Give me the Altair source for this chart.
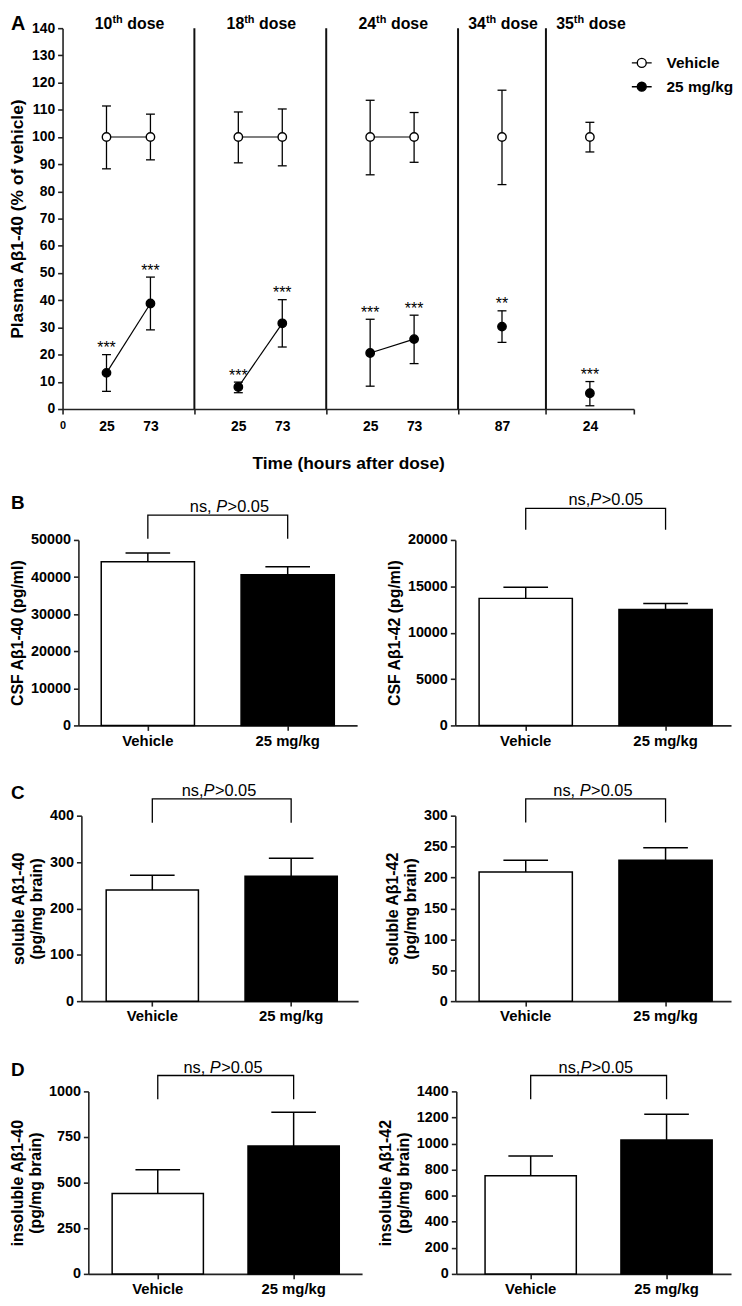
import altair as alt
import pandas as pd

FONT = 'Liberation Sans'

# ------------------------------ Panel A data ------------------------------
a_dose    = ['10th', '10th', '18th', '18th', '24th', '24th', '34th', '35th']
a_slot    = [1, 2, 4, 5, 7, 8, 10, 12]          # position on the segmented time axis
a_hours   = ['25', '73', '25', '73', '25', '73', '87', '24']
veh_mean  = [100, 100, 100, 100, 100, 100, 100, 100]
veh_lo    = [88.3, 91.6, 90.5, 89.4, 86.1, 90.7, 82.5, 94.5]
veh_hi    = [111.4, 108.4, 109.2, 110.3, 113.5, 109.0, 117.2, 105.4]
drug_mean = [13.3, 38.8, 8.1, 31.5, 20.6, 25.7, 30.3, 5.8]
drug_lo   = [6.5, 29.1, 6.0, 22.8, 8.4, 16.7, 24.5, 1.2]
drug_hi   = [20.0, 48.5, 9.9, 40.2, 33.0, 34.5, 36.1, 10.1]
drug_sig  = ['***', '***', '***', '***', '***', '***', '**', '***']
sep_slots = [3, 6, 9, 11]
end_slot  = 13
dose_names = ['10th', '18th', '24th', '34th', '35th']
dose_nums  = ['10', '18', '24', '34', '35']
a_yticks  = [0, 10, 20, 30, 40, 50, 60, 70, 80, 90, 100, 110, 120, 130, 140]

groups = ['Vehicle', '25 mg/kg']
group_fill = ['white', 'black']

# ------------------------------ Panels B-D data ------------------------------
csf40_mean = [44100, 40600]
csf40_top  = [46500, 42800]
csf40_ticks = [0, 10000, 20000, 30000, 40000, 50000]
csf40_bracket = [56700, 50300]

csf42_mean = [13700, 12500]
csf42_top  = [14900, 13150]
csf42_ticks = [0, 5000, 10000, 15000, 20000]
csf42_bracket = [23400, 21100]

sol40_mean = [239.6, 269.5]
sol40_top  = [271.6, 308]
sol40_ticks = [0, 100, 200, 300, 400]
sol40_bracket = [436, 385]

sol42_mean = [209, 228]
sol42_top  = [228, 248]
sol42_ticks = [0, 50, 100, 150, 200, 250, 300]
sol42_bracket = [327, 289]

insol40_mean = [440, 701]
insol40_top  = [570, 886]
insol40_ticks = [0, 250, 500, 750, 1000]
insol40_bracket = [1087, 957]

insol42_mean = [753, 1027]
insol42_top  = [905, 1225]
insol42_ticks = [0, 200, 400, 600, 800, 1000, 1200, 1400]
insol42_bracket = [1522, 1339]

# ------------------------------ Panel A ------------------------------
rows = []
for i in range(len(a_slot)):
    rows.append(dict(slot=a_slot[i], dose=a_dose[i], grp=groups[0], mean=veh_mean[i],
                     lo=veh_lo[i], hi=veh_hi[i], sig=''))
    rows.append(dict(slot=a_slot[i], dose=a_dose[i], grp=groups[1], mean=drug_mean[i],
                     lo=drug_lo[i], hi=drug_hi[i], sig=drug_sig[i]))
df_a = pd.DataFrame(rows)
df_a['key'] = df_a['grp'] + df_a['dose']

label_pairs = [(0, '0')] + list(zip(a_slot, a_hours))
label_expr = "''"
for s, h in reversed(label_pairs):
    label_expr = f"datum.value == {s} ? '{h}' : ({label_expr})"
tick_slots = [0] + sep_slots + [end_slot]
tick_test = "indexof([" + ",".join(str(s) for s in tick_slots) + "], datum.value) >= 0"

A_W = 576   # drawn width of panel A's plot
xs_a = alt.Scale(domain=[0, end_slot], nice=False, zero=False, range=[0, A_W])
ys_a = alt.Scale(domain=[0, 140], nice=False)
xaxis_a = alt.Axis(values=list(range(0, end_slot + 1)), labelExpr=label_expr,
                   title='Time (hours after dose)', titleFontSize=17.5, titlePadding=21,
                   labelFontSize={'condition': {'test': 'datum.value == 0', 'value': 11}, 'value': 14},
                   tickOpacity={'condition': {'test': tick_test, 'value': 1}, 'value': 0},
                   tickSize=5, labelPadding=6, labelFlush=False, labelOverlap=False, grid=False)
yaxis_a = alt.Axis(values=a_yticks, title='Plasma Aβ1-40 (% of vehicle)', titleFontSize=17.5,
                   labelFontSize=14, tickSize=5, labelPadding=3, titlePadding=5, grid=False)

XA = alt.X('slot:Q', scale=xs_a, axis=xaxis_a)


def YA(f):
    return alt.Y(f, type='quantitative', scale=ys_a, axis=yaxis_a)


base_a = alt.Chart(df_a)
seps = alt.Chart(pd.DataFrame({'slot': sep_slots})).mark_rule(color='#111', strokeWidth=2).encode(x=XA)
err_a = base_a.mark_rule(color='black', strokeWidth=1.3).encode(x=XA, y=YA('lo'), y2='hi:Q')
cap_hi = base_a.mark_rule(color='black', strokeWidth=1.3, xOffset=-4.5, x2Offset=4.5).encode(
    x=XA, x2='slot:Q', y=YA('hi'))
cap_lo = base_a.mark_rule(color='black', strokeWidth=1.3, xOffset=-4.5, x2Offset=4.5).encode(
    x=XA, x2='slot:Q', y=YA('lo'))
lines_a = base_a.mark_line(color='black', strokeWidth=1.2).encode(
    x=XA, y=YA('mean'), detail='key:N', order='slot:Q')

legend_path = ("M-1,0H-0.45M0.45,0H1M-0.45,0A0.45,0.45,0,1,1,0.45,0"
               "A0.45,0.45,0,1,1,-0.45,0Z")
legend_a = alt.Legend(title=None, orient='none', legendX=573, legendY=24, symbolType=legend_path,
                      symbolSize=400, symbolStrokeColor='black', symbolStrokeWidth=1.4,
                      symbolOpacity=1, labelFontSize=15.5, labelFontWeight='bold',
                      labelColor='black', labelOffset=14, rowPadding=4, padding=0)
points_a = base_a.mark_point(shape='circle', size=72, filled=True, opacity=1, stroke='black',
                             strokeWidth=1.4).encode(
    x=XA, y=YA('mean'),
    fill=alt.Fill('grp:N', scale=alt.Scale(domain=groups, range=group_fill), legend=legend_a))
stars_a = alt.Chart(df_a[df_a['sig'] != '']).mark_text(
    fontSize=16, baseline='alphabetic', dy=-1.5, color='black').encode(x=XA, y=YA('hi'), text='sig:N')

dose_df = pd.DataFrame({'dose': a_dose, 'slot': a_slot}).groupby('dose', sort=False)['slot'].mean().reset_index()
dose_df['num'] = dose_nums
dose_num_t = alt.Chart(dose_df).mark_text(align='left', baseline='alphabetic', dx=-34, fontSize=16,
                                          fontWeight='bold', color='black').encode(
    x=XA, y=alt.value(1), text='num:N')
dose_sup_t = alt.Chart(dose_df).mark_text(align='left', baseline='alphabetic', dx=-16.2, fontSize=11,
                                          fontWeight='bold', color='black', text='th').encode(
    x=XA, y=alt.value(-5.5))
dose_word_t = alt.Chart(dose_df).mark_text(align='left', baseline='alphabetic', dx=-1.2, fontSize=16,
                                           fontWeight='bold', color='black', text='dose').encode(
    x=XA, y=alt.value(1))
letter_a = alt.Chart(pd.DataFrame({'t': ['A']})).mark_text(
    align='left', baseline='top', fontSize=20, fontWeight='bold', color='black').encode(
    x=alt.value(-52), y=alt.value(-14.5), text='t:N')

# the layout cell is as wide as the left column; the x scale range draws the full width
panel_a = alt.layer(seps, err_a, cap_hi, cap_lo, lines_a, points_a, stars_a,
                    dose_num_t, dose_sup_t, dose_word_t, letter_a).properties(width=310, height=384)

spacer = alt.Chart(pd.DataFrame({'t': ['']})).mark_text().encode(
    text='t:N', x=alt.value(0), y=alt.value(0)).properties(width=1, height=425)


# ------------------------------ bar panels ------------------------------
def text_width(s, size):
    w = {'n': .556, 's': .5, ',': .278, ' ': .278, 'P': .667, '>': .584, '0': .556, '.': .278, '5': .556}
    return sum(w.get(c, .556) for c in s) * size


def bar_panel(means, tops, ticks, title, bracket, ns_txt, geo, height, text_off=0, letter=None,
              letter_y=0):
    r0, r1, f, step, bw = geo
    span = r1 - r0
    p_in = 1 - bw / step
    p_out = (span / step - (2 - p_in)) / 2
    al = f / (span - step * (2 - p_in))
    df = pd.DataFrame({'grp': groups, 'mean': means, 'top': tops})
    xs = alt.Scale(domain=groups, range=[r0, r1], paddingInner=p_in, paddingOuter=p_out, align=al)
    xax = alt.Axis(title=None, labelAngle=0, labelFontSize=15, labelPadding=3, tickSize=5, grid=False)
    ys = alt.Scale(domain=[0, ticks[-1]], nice=False)
    yax = alt.Axis(values=ticks, title=title, titleFontSize=16, labelFontSize=14.5, format='d',
                   offset=-r0, tickSize=5, labelPadding=3, titlePadding=5, grid=False)
    X = alt.X('grp:N', scale=xs, axis=xax, sort=groups)

    def Y(fld):
        return alt.Y(fld, type='quantitative', scale=ys, axis=yax)

    bars = alt.Chart(df).mark_bar(stroke='black', strokeWidth=1.5).encode(
        x=X, y=Y('mean'),
        fill=alt.Fill('grp:N', scale=alt.Scale(domain=groups, range=group_fill), legend=None))
    err = alt.Chart(df).mark_rule(color='black', strokeWidth=1.5).encode(x=X, y=Y('mean'), y2='top:Q')
    cap = alt.Chart(df).mark_tick(color='black', size=45, thickness=1.5, opacity=1).encode(x=X, y=Y('top'))
    br_df = pd.DataFrame({'grp': [groups[0], groups[0], groups[1], groups[1]],
                          'y': [bracket[1], bracket[0], bracket[0], bracket[1]],
                          'o': [0, 1, 2, 3]})
    br = alt.Chart(br_df).mark_line(color='black', strokeWidth=1.3).encode(x=X, y=Y('y'), order='o:Q')
    t_df = pd.DataFrame({'grp': [groups[0]], 'y': [bracket[0]]})
    size = 16.5
    w1 = text_width(ns_txt, size)
    wp = text_width('P', size)
    w3 = text_width('>0.05', size)
    start = step / 2 + text_off - (w1 + wp + w3) / 2
    t1 = alt.Chart(t_df).mark_text(align='left', baseline='alphabetic', dy=-3, dx=start, fontSize=size,
                                   color='black', text=ns_txt.strip()).encode(x=X, y=Y('y'))
    t2 = alt.Chart(t_df).mark_text(align='left', baseline='alphabetic', dy=-3, dx=start + w1, fontSize=size,
                                   fontStyle='italic', color='black', text='P').encode(x=X, y=Y('y'))
    t3 = alt.Chart(t_df).mark_text(align='left', baseline='alphabetic', dy=-3, dx=start + w1 + wp + 0.5,
                                   fontSize=size, color='black', text='>0.05').encode(x=X, y=Y('y'))
    layers = [bars, err, cap, br, t1, t2, t3]
    if letter:
        layers.append(alt.Chart(pd.DataFrame({'t': [letter]})).mark_text(
            align='left', baseline='top', fontSize=19, fontWeight='bold', color='black').encode(
            x=alt.value(-52), y=alt.value(letter_y), text='t:N'))
    width = 310 if letter else 284
    return alt.layer(*layers).properties(width=width, height=height)


b_left = bar_panel(csf40_mean, csf40_top, csf40_ticks, 'CSF Aβ1-40 (pg/ml)', csf40_bracket, 'ns, ',
                   (16, 297, 23, 141, 94), 187, text_off=11.5, letter='B', letter_y=-45.8)
b_right = bar_panel(csf42_mean, csf42_top, csf42_ticks, 'CSF Aβ1-42 (pg/ml)', csf42_bracket, 'ns,',
                    (6, 284, 24, 141, 94), 187, text_off=10)
c_left = bar_panel(sol40_mean, sol40_top, sol40_ticks, ['soluble Aβ1-40', '(pg/mg brain)'], sol40_bracket,
                   'ns,', (19, 298, 25, 140, 93), 187, text_off=-3, letter='C', letter_y=-31.8)
c_right = bar_panel(sol42_mean, sol42_top, sol42_ticks, ['soluble Aβ1-42', '(pg/mg brain)'], sol42_bracket,
                    'ns, ', (6, 284, 24, 141, 94), 187, text_off=-3)
d_left = bar_panel(insol40_mean, insol40_top, insol40_ticks, ['insoluble Aβ1-40', '(pg/mg brain)'],
                   insol40_bracket, 'ns, ', (26, 302, 24, 137, 92), 184, text_off=-3, letter='D',
                   letter_y=-30.8)
d_right = bar_panel(insol42_mean, insol42_top, insol42_ticks, ['insoluble Aβ1-42', '(pg/mg brain)'],
                    insol42_bracket, 'ns,', (7, 284, 29, 137, 92), 184, text_off=-3)

chart = alt.concat(panel_a, spacer, b_left, b_right, c_left, c_right, d_left, d_right,
                   columns=2, spacing={'row': 91, 'column': 80}, bounds='flush',
                   align='each').resolve_scale(
    x='independent', y='independent', fill='independent').properties(padding=0).configure(
    font=FONT).configure_view(stroke=None).configure_axis(
    labelFontWeight='bold', titleFontWeight='bold', labelColor='black', titleColor='black',
    domainColor='#222', tickColor='#222', domainWidth=1.6, tickWidth=1.6, grid=False)

chart.save("out.html", embed_options={"renderer": "svg", "actions": False})
